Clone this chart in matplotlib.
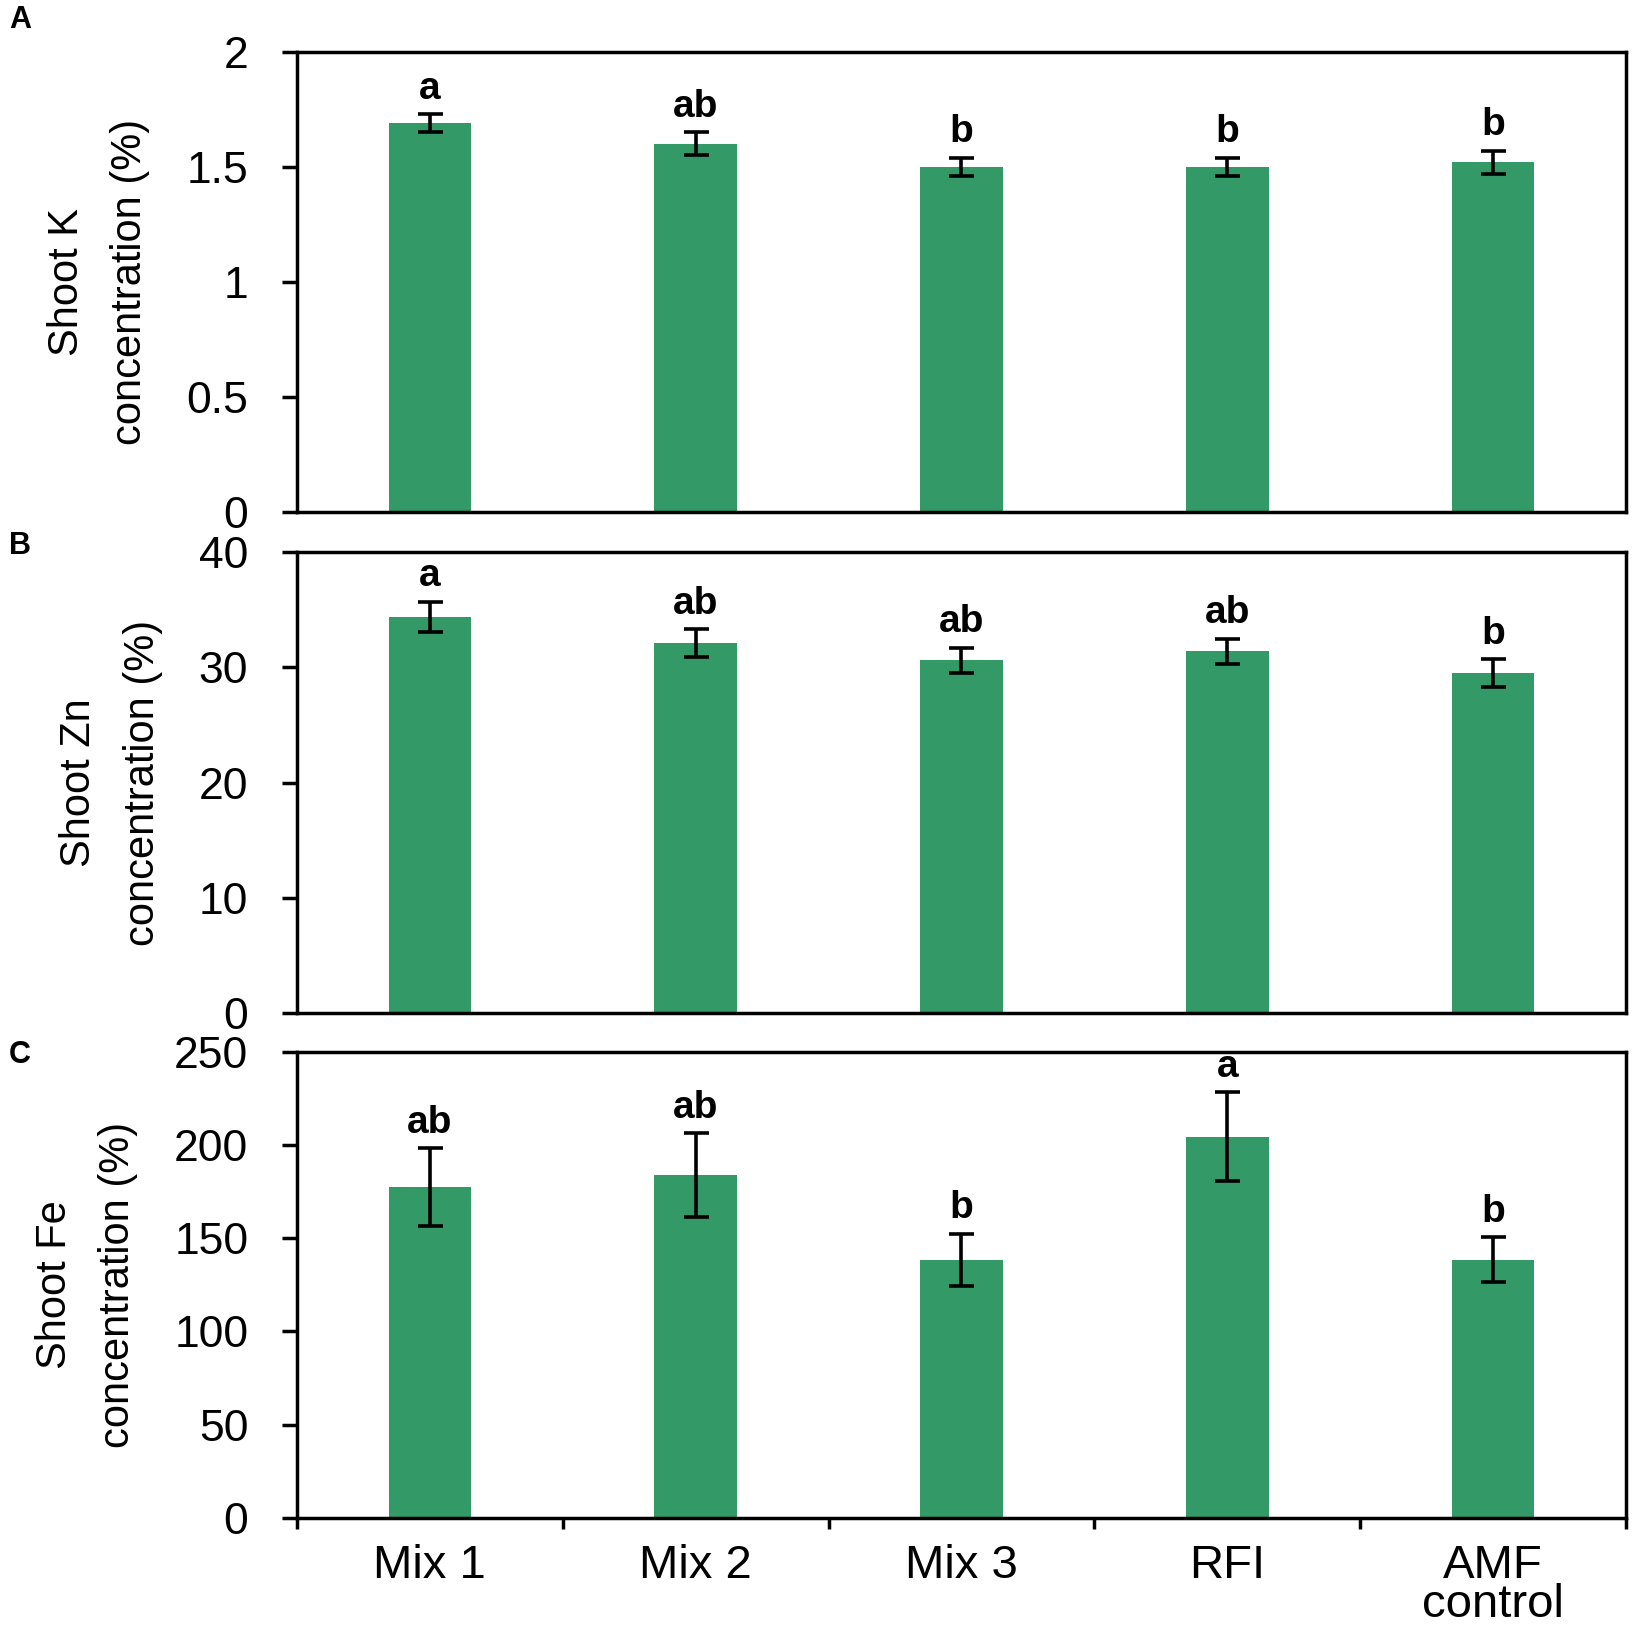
import matplotlib
matplotlib.use('Agg')
import matplotlib.pyplot as plt
import numpy as np

categories = ["Mix 1", "Mix 2", "Mix 3", "RFI", "AMF\ncontrol"]

k_mean = [1.69, 1.60, 1.50, 1.50, 1.52]
k_err = [0.04, 0.05, 0.04, 0.04, 0.05]
k_letters = ["a", "ab", "b", "b", "b"]

zn_mean = [34.4, 32.1, 30.6, 31.4, 29.5]
zn_err = [1.3, 1.2, 1.1, 1.1, 1.2]
zn_letters = ["a", "ab", "ab", "ab", "b"]

fe_mean = [177.5, 184.0, 138.5, 204.5, 138.5]
fe_err = [21.0, 22.5, 14.0, 24.0, 12.0]
fe_letters = ["ab", "ab", "b", "a", "b"]

k_ticks = [0, 0.5, 1, 1.5, 2]
k_ticklabels = ["0", "0.5", "1", "1.5", "2"]
zn_ticks = [0, 10, 20, 30, 40]
zn_ticklabels = ["0", "10", "20", "30", "40"]
fe_ticks = [0, 50, 100, 150, 200, 250]
fe_ticklabels = ["0", "50", "100", "150", "200", "250"]

ylabels = ["Shoot K\nconcentration (%)",
           "Shoot Zn\nconcentration (%)",
           "Shoot Fe\nconcentration (%)"]
panel_letters = ["A", "B", "C"]

BAR_COLOR = "#339966"
FONT = ["Liberation Sans", "DejaVu Sans"]

plt.rcParams['font.family'] = FONT

fig = plt.figure(figsize=(16.37, 16.30), dpi=100)

left, width = 0.1814, 0.8119
boxes = [(0.6857, 0.9683), (0.3785, 0.6613), (0.0689, 0.3546)]
panel_y = [0.988, 0.665, 0.353]

datasets = [
    (k_mean, k_err, k_letters, k_ticks, k_ticklabels),
    (zn_mean, zn_err, zn_letters, zn_ticks, zn_ticklabels),
    (fe_mean, fe_err, fe_letters, fe_ticks, fe_ticklabels),
]

x = np.arange(len(categories))
lw = 2.5

for i, ((mean, err, letters, ticks, tlabels), (b, t)) in enumerate(zip(datasets, boxes)):
    ax = fig.add_axes([left, b, width, t - b])
    ax.bar(x, mean, width=0.31, color=BAR_COLOR, edgecolor='none', zorder=2)
    ax.errorbar(x, mean, yerr=err, fmt='none', ecolor='black',
                elinewidth=2.6, capsize=9, capthick=2.6, zorder=3)
    for xi, m, e, lab in zip(x, mean, err, letters):
        ax.annotate(lab, xy=(xi, m + e), xytext=(0, 11), textcoords='offset points',
                    ha='center', va='baseline', fontsize=28, fontweight='bold')
    ax.set_xlim(-0.5, len(categories) - 0.5)
    ax.set_ylim(ticks[0], ticks[-1])
    ax.set_yticks(ticks)
    ax.set_yticklabels(tlabels)
    ax.tick_params(axis='y', direction='out', length=11, width=lw, pad=24,
                   labelsize=32)
    for sp in ax.spines.values():
        sp.set_linewidth(lw)
        sp.set_color('black')
    ax.set_ylabel(ylabels[i], fontsize=30, labelpad=26, linespacing=1.75)
    if i < 2:
        ax.tick_params(axis='x', bottom=False, labelbottom=False)
    else:
        ax.set_xticks(x)
        ax.set_xticklabels(categories, fontsize=34, linespacing=0.85)
        ax.set_xticks(np.arange(-0.5, len(categories)), minor=True)
        ax.tick_params(axis='x', which='major', length=0, pad=19)
        ax.tick_params(axis='x', which='minor', direction='out', length=8, width=lw)
    fig.text(0.0055, panel_y[i], panel_letters[i], fontsize=22, fontweight='bold',
             ha='left', va='center')

fig.savefig('out.png', dpi=100)
